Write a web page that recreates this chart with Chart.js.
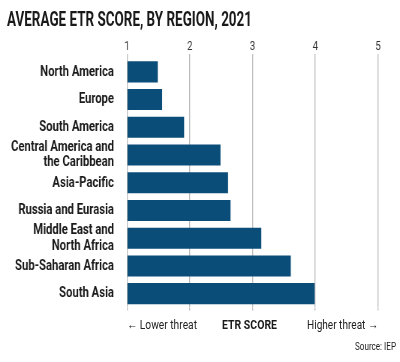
<!DOCTYPE html>
<html><head><meta charset="utf-8">
<script src="https://cdn.jsdelivr.net/npm/chart.js@4"></script>
<style>
html,body{margin:0;padding:0;background:#fff;}
#wrap{position:relative;width:400px;height:362px;overflow:hidden;background:#fff;}
canvas{position:absolute;left:0;top:0;}
.t{position:absolute;white-space:nowrap;font-family:Roboto,"Noto Sans",sans-serif;color:#222;transform-origin:0 0;line-height:1;}
</style></head><body>
<div id="wrap">
<canvas id="c" width="533" height="362" style="width:400px;height:362px"></canvas>
<div class="t" data-w="245" style="left:7px;top:9px;font-size:20px;font-weight:bold;color:#1a1a1a">AVERAGE ETR SCORE, BY REGION, 2021</div>
<div class="t" data-w="70" style="left:127px;top:318px;font-size:13px;">&#8592; Lower threat</div>
<div class="t" data-w="55" style="left:222px;top:318px;font-size:13.5px;font-weight:bold;color:#1a1a1a">ETR SCORE</div>
<div class="t" data-w="71" style="left:307px;top:318px;font-size:13px;">Higher threat &#8594;</div>
<div class="t" data-w="41" style="left:355px;top:342px;font-size:10px;">Source: IEP</div>
</div>
<script>
const categories = [
  ["North America"],
  ["Europe"],
  ["South America"],
  ["Central America and", "the Caribbean"],
  ["Asia-Pacific"],
  ["Russia and Eurasia"],
  ["Middle East and", "North Africa"],
  ["Sub-Saharan Africa"],
  ["South Asia"]
];
const etrScores = [1.49, 1.56, 1.91, 2.49, 2.61, 2.65, 3.14, 3.61, 3.99];
const xTicks = [1, 2, 3, 4, 5];

const FONT = 'Roboto, "Noto Sans", sans-serif';
const SX = 400 / 533;            // horizontal condensing of the canvas (condensed type look)
const px = v => v / SX;          // screen px -> canvas px (horizontal)

document.querySelectorAll('.t').forEach(el => {
  const w = el.getBoundingClientRect().width;
  const target = parseFloat(el.dataset.w);
  if (w > 0) el.style.transform = 'scaleX(' + (target / w) + ')';
});

new Chart(document.getElementById('c').getContext('2d'), {
  type: 'bar',
  data: {
    labels: categories,
    datasets: [{
      data: etrScores,
      base: 1,
      backgroundColor: '#0b4d79',
      barPercentage: 0.76,
      categoryPercentage: 1
    }]
  },
  options: {
    indexAxis: 'y',
    responsive: false,
    animation: false,
    devicePixelRatio: 1,
    layout: { padding: { left: 0, right: 533 - px(378), top: 0, bottom: 51.5 } },
    plugins: { legend: { display: false }, tooltip: { enabled: false } },
    scales: {
      x: {
        type: 'linear', position: 'top', min: 1, max: 5,
        afterBuildTicks: s => { s.ticks = xTicks.map(v => ({ value: v })); },
        afterFit: s => { s.height = 58; },
        ticks: { padding: -1, color: '#333', font: { family: FONT, size: 13 } },
        grid: { color: '#bcbcbc', lineWidth: px(1), tickLength: 4, drawTicks: true },
        border: { display: false }
      },
      x2: {
        type: 'linear', position: 'bottom', min: 1, max: 5,
        afterBuildTicks: s => { s.ticks = xTicks.map(v => ({ value: v })); },
        afterFit: s => { s.height = 3; },
        ticks: { display: false },
        grid: { drawOnChartArea: false, color: '#bcbcbc', lineWidth: px(1), tickLength: 3 },
        border: { display: false }
      },
      y: {
        afterFit: s => { s.width = px(127); },
        ticks: {
          autoSkip: false, padding: px(7), color: '#1a1a1a',
          font: { family: FONT, size: 15, weight: 'bold', lineHeight: 1.02 }
        },
        grid: { display: false },
        border: { display: false }
      }
    }
  }
});
</script>
</body></html>
